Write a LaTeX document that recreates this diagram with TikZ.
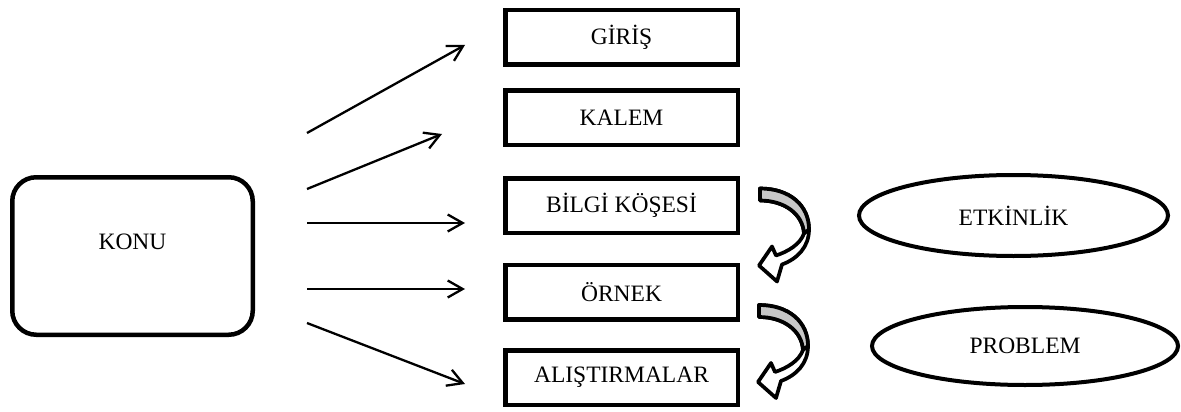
\documentclass[tikz,border=0pt]{standalone}
\usepackage{fontspec}
\setmainfont{Liberation Serif}
\usetikzlibrary{arrows.meta,shapes.geometric}

\tikzset{
  every node/.style={font=\fontsize{23.5pt}{28pt}\selectfont},
  topicbox/.style={draw, line width=4.5pt, rounded corners=24pt,
    minimum width=240.5pt, minimum height=157.5pt},
  stepbox/.style={draw, line width=4.5pt,
    minimum width=232.5pt, minimum height=54.5pt},
  extrabox/.style={draw, ellipse, line width=4pt, inner sep=0pt},
  link/.style={line width=2.3pt, -{Straight Barb[length=15pt,width=17pt]}},
  bandline/.style={line width=3.7pt, line join=round},
  curlarrow/.pic={
    % white band with its arrow head
    \filldraw[bandline, fill=white]
      (0,0) .. controls (30,0) and (49,17) .. (49,41)
      .. controls (49,58) and (38,70) .. (22,76)
      -- (17,93) -- (-1,77) -- (12,58) -- (16,67)
      .. controls (28,63) and (40,56) .. (44,45)
      .. controls (43,26) and (25,12) .. (0,12) -- cycle;
    % shaded back side of the band
    \filldraw[bandline, fill=black!22]
      (0,0) .. controls (30,0) and (49,17) .. (49,41)
      -- (44,45)
      .. controls (43,26) and (25,12) .. (0,12) -- cycle;
  }
}

\begin{document}
\begin{tikzpicture}[x=1pt,y=-1pt]
\useasboundingbox (0,0) rectangle (1181,412);

% main topic
\node[topicbox, label={[yshift=14pt]center:KONU}] (konu) at (132.5,256) {};

% sections of the topic
\node[stepbox] (giris)  at (621.5,37.5)  {GİRİŞ};
\node[stepbox] (kalem)  at (621.5,117.5) {KALEM};
\node[stepbox] (bilgi)  at (621.5,205.5) {BİLGİ KÖŞESİ};
\node[stepbox] (ornek)  at (621.5,292)   {ÖRNEK};
\node[stepbox] (alistirma) at (621.5,377.5) {ALIŞTIRMALAR};

% side activities
\node[extrabox, minimum width=309pt, minimum height=81pt] (etkinlik) at (1013.5,215.5) {ETKİNLİK};
\node[extrabox, minimum width=306pt, minimum height=78pt] (problem)  at (1025,346) {PROBLEM};

% arrow end points
\coordinate (s1) at (307,133); \coordinate (e1) at (465,45);
\coordinate (s2) at (307,189); \coordinate (e2) at (442,134);
\coordinate (s3) at (307,223); \coordinate (e3) at (465,223);
\coordinate (s4) at (307,289); \coordinate (e4) at (465,289);
\coordinate (s5) at (307,323); \coordinate (e5) at (465,384);

\draw[link] (s1) -- (e1);
\draw[link] (s2) -- (e2);
\draw[link] (s3) -- (e3);
\draw[link] (s4) -- (e4);
\draw[link] (s5) -- (e5);

% curved arrows between the sections
\pic at (760,188.5) {curlarrow};
\pic at (759,305) {curlarrow};
\end{tikzpicture}
\end{document}
